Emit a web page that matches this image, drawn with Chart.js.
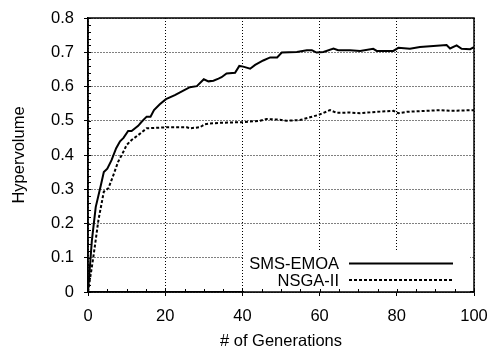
<!DOCTYPE html>
<html><head><meta charset="utf-8">
<script src="https://cdn.jsdelivr.net/npm/chart.js@4/dist/chart.umd.min.js"></script>
<style>html,body{margin:0;padding:0;background:#fff}#wrap{width:492px;height:348px}</style>
</head><body><div id="wrap"><canvas id="c" width="492" height="348"></canvas></div>
<script>
const smsGen = [0,1,2,3.3,4.1,5,6.1,7.3,8.3,9.2,10.4,11.3,13,13.9,15.2,16.2,17.1,18.6,20.2,22.5,24.7,26.4,28.2,30,31.2,32.5,33.8,34.6,35.9,38.1,39.2,40.2,42,43.3,45.4,47.2,49,50.2,54.1,56.7,58,59.2,61,63.6,64.8,67.9,70.5,73.9,74.8,79.1,80.4,83.4,86,92.9,93.8,95.5,96.8,99,100];
const smsHv = [0,0.15,0.248,0.31,0.35,0.36,0.385,0.42,0.44,0.45,0.47,0.47,0.485,0.497,0.512,0.512,0.531,0.548,0.563,0.575,0.588,0.598,0.601,0.621,0.615,0.617,0.623,0.627,0.638,0.64,0.66,0.658,0.652,0.663,0.676,0.685,0.685,0.699,0.701,0.706,0.706,0.699,0.701,0.711,0.706,0.706,0.704,0.71,0.704,0.704,0.713,0.71,0.715,0.721,0.711,0.72,0.71,0.709,0.715];
const nsgaGen = [0,1.4,2.7,4.1,5.3,6.6,7.8,9.2,10,11.3,13,15.2,20.4,25.6,26.4,29,30.3,31.6,34.2,40.2,44.6,46.3,49.7,51.5,54.9,57.5,59.7,61,62.7,64.4,67.9,70.5,74.8,79.1,80.4,82.6,91.2,93.8,100];
const nsgaHv = [0,0.103,0.21,0.293,0.303,0.342,0.38,0.41,0.429,0.444,0.458,0.478,0.481,0.481,0.478,0.481,0.49,0.492,0.494,0.496,0.5,0.505,0.503,0.5,0.502,0.51,0.517,0.523,0.531,0.523,0.524,0.522,0.526,0.529,0.522,0.526,0.531,0.529,0.531];
const seriesNames = ['SMS-EMOA','NSGA-II'];
const xTicks = [0,20,40,60,80,100];
const yTicks = [0,0.1,0.2,0.3,0.4,0.5,0.6,0.7,0.8];

const FONT = "'Liberation Sans', Arial, Helvetica, sans-serif";
Chart.defaults.font.family = FONT;
Chart.defaults.color = '#000';

const framePlugin = {
  id: 'frame',
  afterDraw(chart) {
    const {ctx, chartArea: a, scales: {x, y}} = chart;
    ctx.save();
    // legend background
    ctx.fillStyle = '#fff';
    ctx.fillRect(244, 251, 226, a.bottom - 251);
    // legend entries
    ctx.font = '16.5px ' + FONT;
    ctx.textAlign = 'right';
    ctx.textBaseline = 'middle';
    const rows = [263.5, 280];
    chart.data.datasets.forEach((ds, i) => {
      ctx.fillStyle = '#000';
      ctx.fillText(ds.label, 339, rows[i] + 1);
      ctx.beginPath();
      ctx.strokeStyle = ds.borderColor;
      ctx.lineWidth = ds.borderWidth;
      ctx.setLineDash(ds.borderDash || []);
      ctx.moveTo(349, rows[i]);
      ctx.lineTo(453, rows[i]);
      ctx.stroke();
    });
    ctx.setLineDash([]);
    // minor ticks (inward)
    ctx.strokeStyle = '#000';
    ctx.lineWidth = 1;
    ctx.beginPath();
    for (let v = 0; v <= 0.8001; v += 0.02) {
      const py = Math.round(y.getPixelForValue(v)) + 0.5;
      ctx.moveTo(a.left, py); ctx.lineTo(a.left + 3, py);
    }
    for (let g = 0; g <= 100; g += 5) {
      const px = Math.round(x.getPixelForValue(g)) + 0.5;
      ctx.moveTo(px, a.bottom); ctx.lineTo(px, a.bottom - 3);
    }
    ctx.stroke();
    // frame
    ctx.lineWidth = 1.5;
    ctx.strokeRect(a.left, a.top, a.right - a.left, a.bottom - a.top);
    ctx.restore();
  }
};

new Chart(document.getElementById('c'), {
  type: 'line',
  data: {
    datasets: [
      { label: seriesNames[0], data: smsGen.map((g, i) => ({x: g, y: smsHv[i]})),
        borderColor: '#000', borderWidth: 2, pointRadius: 0, tension: 0, fill: false },
      { label: seriesNames[1], data: nsgaGen.map((g, i) => ({x: g, y: nsgaHv[i]})),
        borderColor: '#000', borderWidth: 2, borderDash: [3, 2], pointRadius: 0, tension: 0, fill: false }
    ]
  },
  options: {
    responsive: false,
    animation: false,
    layout: { padding: { top: 18, right: 18, left: 0, bottom: 0 } },
    plugins: { legend: { display: false }, tooltip: { enabled: false } },
    scales: {
      x: {
        type: 'linear', min: 0, max: 100,
        afterBuildTicks: s => { s.ticks = xTicks.map(v => ({value: v})); },
        afterFit: s => { s.height = 56; s.paddingLeft = 0; s.paddingRight = 0; },
        ticks: { font: { size: 16.5 }, padding: 11, maxRotation: 0, color: '#000' },
        grid: { color: '#000', lineWidth: 1, tickLength: 4, tickColor: '#000', drawOnChartArea: true },
        border: { display: true, color: '#000', width: 1.5, dash: [1, 2] },
        title: { display: true, text: '# of Generations', font: { size: 16.5 }, color: '#000', padding: { top: 0, bottom: -3 } }
      },
      y: {
        type: 'linear', min: 0, max: 0.8,
        afterBuildTicks: s => { s.ticks = yTicks.map(v => ({value: v})); },
        afterFit: s => { s.width = 88; s.paddingTop = 0; s.paddingBottom = 0; },
        ticks: { font: { size: 16.5 }, padding: 10, color: '#000', callback: v => (v === 0 ? '0' : String(+v.toFixed(1))) },
        grid: { color: '#000', lineWidth: 1, tickLength: 4, tickColor: '#000' },
        border: { display: true, color: '#000', width: 1.5, dash: [1, 2] },
        title: { display: true, text: 'Hypervolume', font: { size: 16.5 }, color: '#000', padding: { top: 10, bottom: 0 } }
      }
    }
  },
  plugins: [framePlugin]
});
</script></body></html>
